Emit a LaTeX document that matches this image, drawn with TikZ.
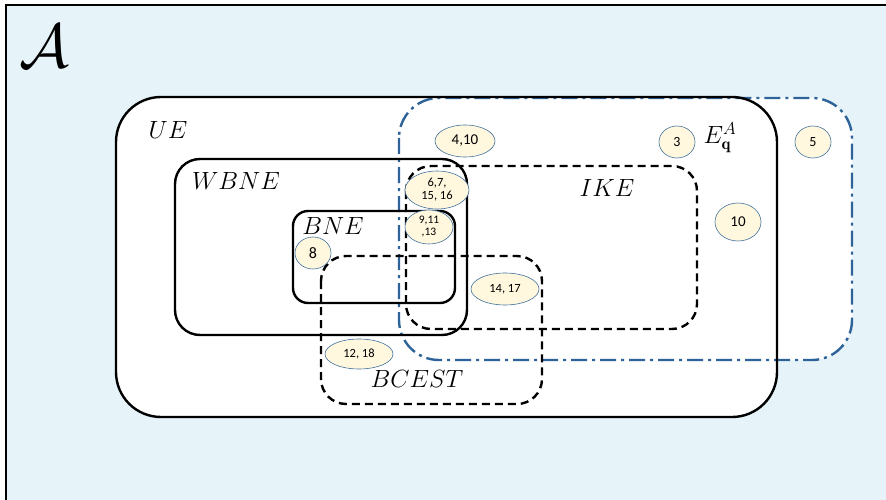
\documentclass[tikz,border=0pt]{standalone}
\usepackage{amsmath}
\usepackage{amssymb}
\usepackage{fontspec}
\newfontfamily\numfont{Carlito}
\usetikzlibrary{shapes.geometric}

\definecolor{bgblue}{HTML}{E6F4FA}
\definecolor{setblue}{HTML}{2E6399}
\definecolor{cream}{HTML}{FFF8DF}
\definecolor{rimblue}{HTML}{41719C}

\begin{document}
\begin{tikzpicture}[
    x=1pt, y=-1pt,
    solidset/.style={draw, line width=2.4pt, rounded corners=#1},
    dashset/.style={draw, line width=2.4pt, dash pattern=on 8pt off 5pt, rounded corners=#1},
    dotset/.style={draw=setblue, line width=2.4pt, dash pattern=on 16pt off 5pt on 3pt off 5pt, rounded corners=#1},
    setname/.style={font=\fontsize{24}{28}\selectfont},
    elem/.style={ellipse, draw=rimblue, fill=cream, line width=0.6pt, inner sep=0pt, align=center, font=\numfont\fontsize{#1}{#1}\selectfont},
    elem/.default=14
]
    \useasboundingbox (0,0) rectangle (886,500);

    % Background
    \fill[bgblue] (6,5) rectangle (886,500);
    \draw[line width=2pt] (886,5) -- (6,5) -- (6,500);
    \fill[white, rounded corners=45pt] (116,97) rectangle (777,417);
    \fill[white, rounded corners=40pt] (399,98) rectangle (852,360);

    % Sets
    \draw[dotset=40pt] (399,98) rectangle (852,360);
    \draw[solidset=45pt] (116,97) rectangle (777,417);
    \draw[solidset=25pt] (175,159) rectangle (467,335);
    \draw[solidset=15pt] (293,211) rectangle (455,303);
    \draw[dashset=25pt] (406,166) rectangle (697,329);
    \draw[dashset=25pt] (321,256) rectangle (542,404);

    % Set names
    \node[scale=2.5, font=\fontsize{24}{24}\selectfont] (calA) at (44,46) {$\mathcal{A}$};
    \node[setname] (ue) at (168,130) {$UE$};
    \node[setname] (wbne) at (236,181) {$WBNE$};
    \node[setname] (bne) at (333,226) {$BNE$};
    \node[setname] (ike) at (607,188) {$IKE$};
    \node[setname] (bcest) at (417,379) {$BCEST$};
    \node[font=\fontsize{24}{24}\selectfont, inner sep=0pt] (eqa) at (720,138) {$E^{A}_{\mathbf{q}}$};

    % Elements
    \node[elem=15, minimum width=60pt, minimum height=32pt] (e410) at (465,141) {4,10};
    \node[elem=14, minimum width=36pt, minimum height=32pt] (e3) at (677,142) {3};
    \node[elem=14, minimum width=36pt, minimum height=32pt] (e5) at (813,142) {5};
    \node[elem, minimum width=64pt, minimum height=38pt, font=\numfont\fontsize{12.5}{13}\selectfont] (e6716) at (437,190) {6,7,\\15, 16};
    \node[elem, minimum width=48pt, minimum height=34pt, font=\numfont\fontsize{11.5}{12}\selectfont] (e91113) at (429,227) {9,11\\,13};
    \node[elem=16, minimum width=36pt, minimum height=32pt] (e8) at (313,253) {8};
    \node[elem=15, minimum width=46pt, minimum height=38pt] (e10) at (738,222) {10};
    \node[elem=12.5, minimum width=68pt, minimum height=32pt] (e1417) at (505,289) {14, 17};
    \node[elem=12.5, minimum width=68pt, minimum height=30pt] (e1218) at (359,354) {12, 18};
\end{tikzpicture}
\end{document}
